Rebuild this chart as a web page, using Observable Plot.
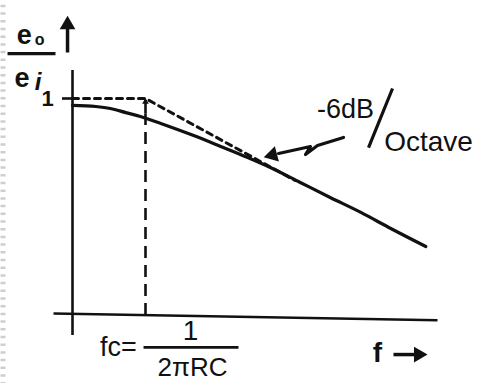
<!DOCTYPE html>
<html>
<head>
<meta charset="utf-8">
<script src="https://cdn.jsdelivr.net/npm/d3@7"></script>
<script src="https://cdn.jsdelivr.net/npm/@observablehq/plot@0.6"></script>
<style>
  html, body { margin: 0; padding: 0; background: #fff; }
  #chart svg { display: block; }
</style>
</head>
<body>
<div id="chart"></div>
<script>
// Frequency (in units of fc) and gain e_o/e_i of the response curve
const freq = [0, 0.32, 0.52, 0.73, 0.93, 1.21, 1.66, 2.03, 2.4, 2.71, 3.12, 3.53, 3.95, 4.36, 4.84];
const gain = [0.968, 0.963, 0.954, 0.935, 0.917, 0.885, 0.829, 0.779, 0.728, 0.682, 0.613, 0.544, 0.475, 0.401, 0.318];
// Straight-line asymptote (dotted)
const asymFreq = [0, 1, 3.05];
const asymGain = [1, 1, 0.622];
// Corner frequency and unity gain
const cornerFreq = [1];
const unityGain = [1];
const unityLabel = ["1"];
const slopeLabels = ["-6dB", "Octave"];
const fcLabels = ["fc=", "1", "2πRC"];
const fLabel = ["f"];

const curve = freq.map((f, i) => ({f, g: gain[i]}));
const asym = asymFreq.map((f, i) => ({f, g: asymGain[i]}));

const font = "'Liberation Sans', Arial, Helvetica, sans-serif";
const px = (x, y) => ({f: (x - 72) / 73, g: (315 - y) / 217});

const chart = Plot.plot({
  width: 482,
  height: 383,
  marginLeft: 72,
  marginRight: 0,
  marginTop: 0,
  marginBottom: 68,
  x: {domain: [0, 410 / 73], axis: null},
  y: {domain: [0, 315 / 217], axis: null},
  style: {background: "#fff", fontFamily: font, color: "#111"},
  marks: [
    // scanned page edge marks
    Plot.ruleX([-0.952], {y1: -0.32, y2: 1.46, stroke: "#cfcfcf", strokeWidth: 5, strokeDasharray: "2.5,5.2"}),
    // axes
    Plot.ruleX([0], {y1: -0.092, y2: 1.129, stroke: "#111", strokeWidth: 2.6}),
    Plot.link([0], {x1: -0.26, y1: 0.009, x2: 5.0, y2: -0.022, stroke: "#111", strokeWidth: 2.6}),
    Plot.ruleY(unityGain, {x1: -0.137, x2: 0, stroke: "#111", strokeWidth: 2.6}),
    Plot.text(unityLabel, {x: -0.342, y: 1.0, text: d => d, fontSize: 22, fontWeight: "bold"}),
    // corner frequency dashed line
    Plot.ruleX(cornerFreq, {y1: 0, y2: 0.93, stroke: "#111", strokeWidth: 2.6, strokeDasharray: "12,7"}),
    Plot.ruleX(cornerFreq, {y1: 0.93, y2: 0.99, stroke: "#111", strokeWidth: 2.6}),
    Plot.dot(cornerFreq, {x: d => d, y: 0.985, symbol: "triangle2", r: 3.2, fill: "#111", stroke: "none"}),
    // asymptote
    Plot.line(asym, {x: "f", y: "g", stroke: "#111", strokeWidth: 3, strokeDasharray: "6,5"}),
    // response curve
    Plot.line(curve, {x: "f", y: "g", stroke: "#111", strokeWidth: 3.2, curve: "monotone-x"}),
    // y label e_o / e_i
    Plot.text(["e"], {x: -0.66, y: 1.29, text: d => d, fontSize: 27, fontWeight: "bold"}),
    Plot.text(["o"], {x: -0.45, y: 1.27, text: d => d, fontSize: 16, fontWeight: "bold"}),
    Plot.link([0], {x1: -0.89, y1: 1.207, x2: -0.233, y2: 1.207, stroke: "#111", strokeWidth: 3.2}),
    Plot.text(["e"], {x: -0.69, y: 1.095, text: d => d, fontSize: 27, fontWeight: "bold"}),
    Plot.text(["i"], {x: -0.47, y: 1.075, text: d => d, fontSize: 24, fontWeight: "bold", fontStyle: "italic"}),
    Plot.link([0], {x1: -0.068, y1: 1.212, x2: -0.068, y2: 1.33, stroke: "#111", strokeWidth: 3.5}),
    Plot.dot([0], {x: -0.068, y: 1.34, symbol: "triangle2", r: 7.5, fill: "#111", stroke: "none"}),
    // slope annotation
    Plot.text([slopeLabels[0]], {x: 3.74, y: 0.952, text: d => d, fontSize: 27, letterSpacing: "2.5px"}),
    Plot.text([slopeLabels[1]], {x: 4.877, y: 0.8, text: d => d, fontSize: 28, letterSpacing: "1.8px"}),
    Plot.link([0], {x1: 4.384, y1: 1.046, x2: 4.055, y2: 0.774, stroke: "#111", strokeWidth: 3.2}),
    Plot.line([px(343, 137), px(317, 145), px(305, 154), px(310, 146), px(278, 153)],
      {x: "f", y: "g", stroke: "#111", strokeWidth: 3.2, curve: "linear"}),
    Plot.dot([0], {x: (272 - 72) / 73, y: (315 - 154.5) / 217, symbol: "triangle2", r: 7.5, rotate: -105, fill: "#111", stroke: "none"}),
    // fc = 1 / 2πRC
    Plot.text([fcLabels[0]], {x: 0.63, y: -0.147, text: d => d, fontSize: 27, letterSpacing: "1px"}),
    Plot.link([0], {x1: 0.973, y1: -0.147, x2: 2.274, y2: -0.147, stroke: "#111", strokeWidth: 2.6}),
    Plot.text([fcLabels[1]], {x: 1.616, y: -0.072, text: d => d, fontSize: 28}),
    Plot.text([fcLabels[2]], {x: 1.644, y: -0.24, text: d => d, fontSize: 26, letterSpacing: "1.6px"}),
    // f →
    Plot.text(fLabel, {x: 4.178, y: -0.171, text: d => d, fontSize: 28, fontWeight: "bold"}),
    Plot.link([0], {x1: 4.397, y1: -0.18, x2: 4.75, y2: -0.18, stroke: "#111", strokeWidth: 3.5}),
    Plot.dot([0], {x: 4.74, y: -0.18, symbol: "triangle2", r: 7.5, rotate: 90, fill: "#111", stroke: "none"})
  ]
});

document.getElementById("chart").appendChild(chart);
</script>
</body>
</html>
